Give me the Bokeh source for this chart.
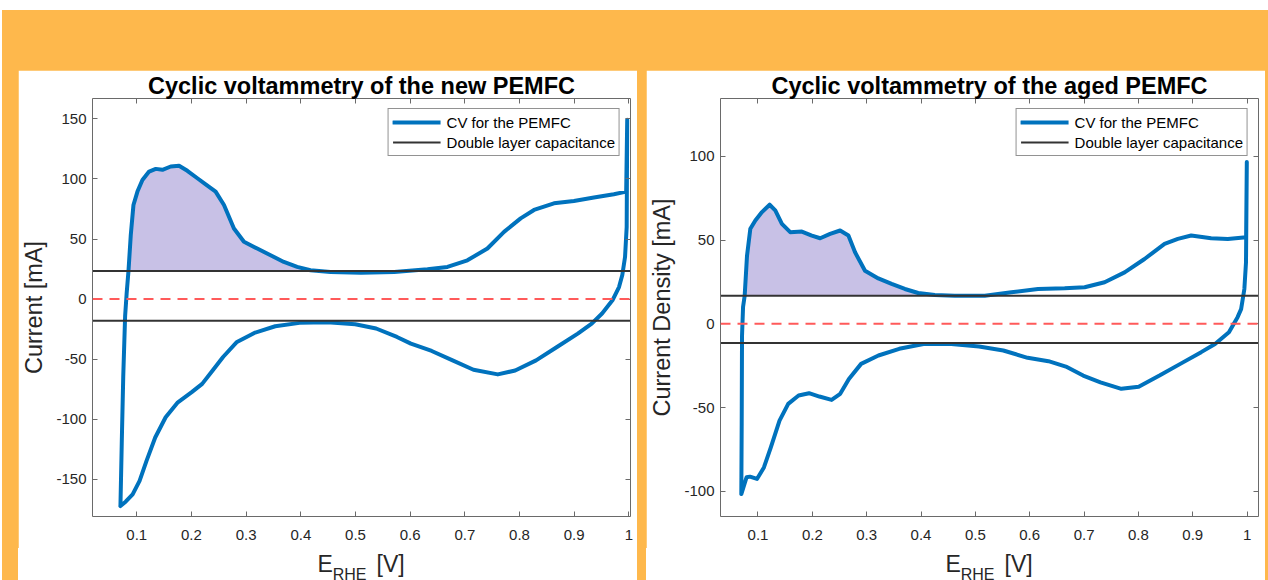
import numpy as np
from bokeh.plotting import figure
from bokeh.models import Span, LinearAxis, FixedTicker, Legend, LegendItem, Range1d, Div
from bokeh.layouts import row, column
from bokeh.embed import file_html
from bokeh.resources import INLINE

# ---------------- data ----------------
new_anodic_x = [0.0701, 0.0725, 0.0752, 0.0787, 0.0815, 0.0848, 0.089, 0.0939, 0.1012, 0.1103,
                0.1225, 0.1347, 0.1469, 0.1621, 0.1773, 0.1925, 0.2108, 0.226, 0.2442, 0.2595,
                0.2777, 0.296, 0.3203, 0.3447, 0.369, 0.3934, 0.4177, 0.4542, 0.5099, 0.5708,
                0.6317, 0.6682, 0.7047, 0.7413, 0.7717, 0.8021, 0.8265, 0.863, 0.8995, 0.9361,
                0.9726, 0.9951, 0.997]
new_anodic_y = [-172.3, -120, -65, -13.7, 5, 23.4, 53.2, 78.3, 89.5, 99.2,
                106.2, 108.4, 107.6, 110.4, 111.0, 106.8, 100.6, 95.6, 89.5, 78.3,
                58.8, 47.7, 42.1, 36.5, 30.9, 26.8, 24.0, 22.6, 22.0, 22.6,
                24.8, 26.8, 32.3, 42.1, 56.0, 67.2, 74.2, 79.7, 81.7, 84.5,
                87.3, 89.5, 149.4]
new_cathodic_x = [0.997, 0.996, 0.993, 0.988, 0.982, 0.970, 0.951, 0.9321, 0.9066, 0.8685,
                  0.8303, 0.7921, 0.7603, 0.7158, 0.6776, 0.6394, 0.6013, 0.5758, 0.5377, 0.4995,
                  0.4486, 0.3977, 0.3532, 0.315, 0.2832, 0.2578, 0.2387, 0.2196, 0.2005, 0.1751,
                  0.1528, 0.1337, 0.1178, 0.1051, 0.0924, 0.0796, 0.0701]
new_cathodic_y = [149.4, 60, 35, 20, 10, -1, -12, -20.4, -28.7, -39.9,
                  -51.0, -59.4, -62.7, -58.8, -51.0, -43.2, -37.1, -31.5, -24.5, -20.9,
                  -19.2, -19.8, -22.6, -28.2, -35.7, -48.2, -59.4, -70.6, -77.5, -85.9,
                  -98.4, -115.2, -134.7, -151.4, -162.6, -168.7, -172.3]
new_dl_upper = 23.3
new_dl_lower = -18.0

aged_anodic_x = [0.0693, 0.0700, 0.0706, 0.0725, 0.0755, 0.0798, 0.0859, 0.0951, 0.1073, 0.1214,
                 0.1318, 0.1440, 0.1593, 0.1807, 0.1991, 0.2144, 0.2327, 0.2511, 0.2664, 0.2786,
                 0.2969, 0.3214, 0.3459, 0.3703, 0.3948, 0.4254, 0.4621, 0.5173, 0.5663, 0.6153,
                 0.6643, 0.7011, 0.7378, 0.7746, 0.8113, 0.8481, 0.8726, 0.8971, 0.9338, 0.9645,
                 0.9982, 0.9995]
aged_anodic_y = [-101.6, -60, -7.2, 10, 16.8, 40.7, 56.7, 61.7, 66.7, 71.1,
                 67.7, 59.7, 54.7, 55.1, 52.7, 51.1, 53.7, 55.7, 52.7, 42.7,
                 31.7, 27.1, 23.8, 20.8, 18.4, 17.2, 16.8, 16.8, 18.8, 20.8,
                 21.2, 21.8, 24.8, 30.7, 38.7, 47.7, 50.7, 52.7, 51.1, 50.7,
                 51.7, 96.6]
aged_cathodic_x = [0.9995, 0.998, 0.995, 0.989, 0.9825, 0.9666, 0.941, 0.9155, 0.8771, 0.8388,
                   0.8005, 0.7686, 0.7302, 0.6983, 0.6665, 0.6345, 0.5962, 0.5515, 0.5068, 0.4557,
                   0.4046, 0.3599, 0.3216, 0.2897, 0.2673, 0.2513, 0.2354, 0.213, 0.1939, 0.1747,
                   0.1556, 0.1396, 0.1236, 0.1109, 0.0981, 0.0853, 0.0789, 0.0693]
aged_cathodic_y = [96.6, 36.7, 20.8, 8.8, 4.0, -5.0, -12.0, -16.9, -23.9, -30.9,
                   -37.5, -38.8, -34.9, -30.9, -25.5, -22.3, -20.3, -15.9, -13.5, -12.0,
                   -12.0, -14.9, -18.9, -23.9, -32.9, -41.8, -45.4, -43.4, -41.4, -42.8,
                   -47.8, -57.8, -73.7, -85.7, -92.6, -91.2, -91.6, -101.6]
aged_dl_upper = 16.8
aged_dl_lower = -11.4

x_ticks = [0.1, 0.2, 0.3, 0.4, 0.5, 0.6, 0.7, 0.8, 0.9, 1.0]
new_y_ticks = [-150, -100, -50, 0, 50, 100, 150]
aged_y_ticks = [-100, -50, 0, 50, 100]

new_fill_range = (0.0848, 0.4542)
aged_fill_range = (0.0755, 0.4621)

# ---------------- style ----------------
ORANGE = "#FEB84C"
BLUE = "#0072BD"
DLC = "#333333"
FILL = "#C8C1E6"
RED = "#FF5A5A"
AX = "#6A6A6A"
TXT = "#262626"
FONT = "Liberation Sans"
FIG_W, FIG_H = 619, 478
LABEL_H = 32


def style_axis(axis, labels=True):
    axis.axis_line_color = AX
    axis.major_tick_line_color = AX
    axis.major_tick_in = 5
    axis.major_tick_out = 0
    axis.minor_tick_line_color = None
    axis.major_label_text_font = FONT
    axis.major_label_text_font_size = "15px"
    axis.major_label_text_color = TXT
    if not labels:
        axis.major_label_text_font_size = "0px"
        axis.major_label_standoff = 0
        axis.major_label_text_color = None


def make_plot(title, ylabel, ax_, ay_, cx_, cy_, dl_up, dl_lo, xr, yr, yticks, fill_range):
    p = figure(width=FIG_W, height=FIG_H, x_range=Range1d(*xr), y_range=Range1d(*yr),
               output_backend="svg", toolbar_location=None,
               min_border_left=74, min_border_right=7,
               min_border_top=28, min_border_bottom=32)
    p.background_fill_color = "white"
    p.border_fill_color = "white"
    p.outline_line_color = None
    p.grid.visible = False

    p.title.text = title
    p.title.align = "center"
    p.title.text_font = FONT
    p.title.text_font_style = "bold"
    p.title.text_font_size = "23.5px"
    p.title.text_color = "black"
    p.title.standoff = 0

    style_axis(p.xaxis[0])
    p.xaxis[0].ticker = FixedTicker(ticks=x_ticks)
    p.xaxis[0].major_label_standoff = 13
    style_axis(p.yaxis[0])
    p.yaxis[0].ticker = FixedTicker(ticks=yticks)
    p.yaxis[0].major_label_overrides = {t: str(t) for t in yticks}
    p.yaxis[0].major_label_standoff = 6
    p.yaxis[0].axis_label = ylabel
    p.yaxis[0].axis_label_text_font = FONT
    p.yaxis[0].axis_label_text_font_size = "23.5px"
    p.yaxis[0].axis_label_text_font_style = "normal"
    p.yaxis[0].axis_label_text_color = TXT
    p.yaxis[0].axis_label_standoff = 6

    top = LinearAxis(ticker=FixedTicker(ticks=x_ticks))
    style_axis(top, labels=False)
    p.add_layout(top, "above")
    right = LinearAxis(ticker=FixedTicker(ticks=yticks))
    style_axis(right, labels=False)
    p.add_layout(right, "right")

    ax_ = np.array(ax_)
    ay_ = np.array(ay_)
    m = (ax_ >= fill_range[0]) & (ax_ <= fill_range[1])
    p.varea(x=ax_[m], y1=dl_up, y2=np.maximum(ay_[m], dl_up), fill_color=FILL)

    cv_x = list(ax_) + list(cx_)
    cv_y = list(ay_) + list(cy_)
    cv = p.line(cv_x, cv_y, line_color=BLUE, line_width=4, line_join="round", line_cap="round")

    dl1 = p.line([xr[0], xr[1]], [dl_up, dl_up], line_color=DLC, line_width=2)
    p.line([xr[0], xr[1]], [dl_lo, dl_lo], line_color=DLC, line_width=2)
    p.add_layout(Span(location=0, dimension="width", line_color=RED, line_width=2,
                      line_dash="10 7"))

    leg = Legend(items=[LegendItem(label="CV for the PEMFC", renderers=[cv]),
                        LegendItem(label="Double layer capacitance", renderers=[dl1])],
                 location="top_right")
    leg.label_text_font = FONT
    leg.label_text_font_size = "15px"
    leg.label_text_color = "black"
    leg.glyph_width = 48
    leg.glyph_height = 18
    leg.spacing = 2
    leg.padding = 4
    leg.margin = 10
    leg.label_standoff = 6
    leg.border_line_color = TXT
    leg.border_line_width = 1
    p.add_layout(leg)

    # x axis label E_RHE [V] as real text below the plot
    html = ('<div style="margin:0 0 0 74px; width:538px; padding-top:5px; text-align:center; '
            'font-family:\'Liberation Sans\'; font-size:23px; line-height:23px; color:%s; '
            'white-space:nowrap;">E<span style="font-size:16px; position:relative; top:8px;">'
            'RHE</span><span style="margin-left:10px;">[V]</span></div>' % TXT)
    d = Div(text=html, width=FIG_W, height=LABEL_H, margin=0,
            styles={"background-color": "white", "overflow": "hidden"})
    return p, d


p1, d1 = make_plot("Cyclic voltammetry of the new PEMFC", "Current [mA]",
                   new_anodic_x, new_anodic_y, new_cathodic_x, new_cathodic_y,
                   new_dl_upper, new_dl_lower, (0.019, 1.003), (-181, 167), new_y_ticks,
                   new_fill_range)
p2, d2 = make_plot("Cyclic voltammetry of the aged PEMFC", "Current Density [mA]",
                   aged_anodic_x, aged_anodic_y, aged_cathodic_x, aged_cathodic_y,
                   aged_dl_upper, aged_dl_lower, (0.031, 1.021), (-115, 134.5), aged_y_ticks,
                   aged_fill_range)

c1 = column(p1, d1, margin=(60, 0, 0, 16))
c2 = column(p2, d2, margin=(60, 3, 0, 9))
root = row(c1, c2, styles={"background-color": ORANGE}, margin=(10, 0, 0, 2))

open("out.html", "w").write(file_html(root, INLINE))
